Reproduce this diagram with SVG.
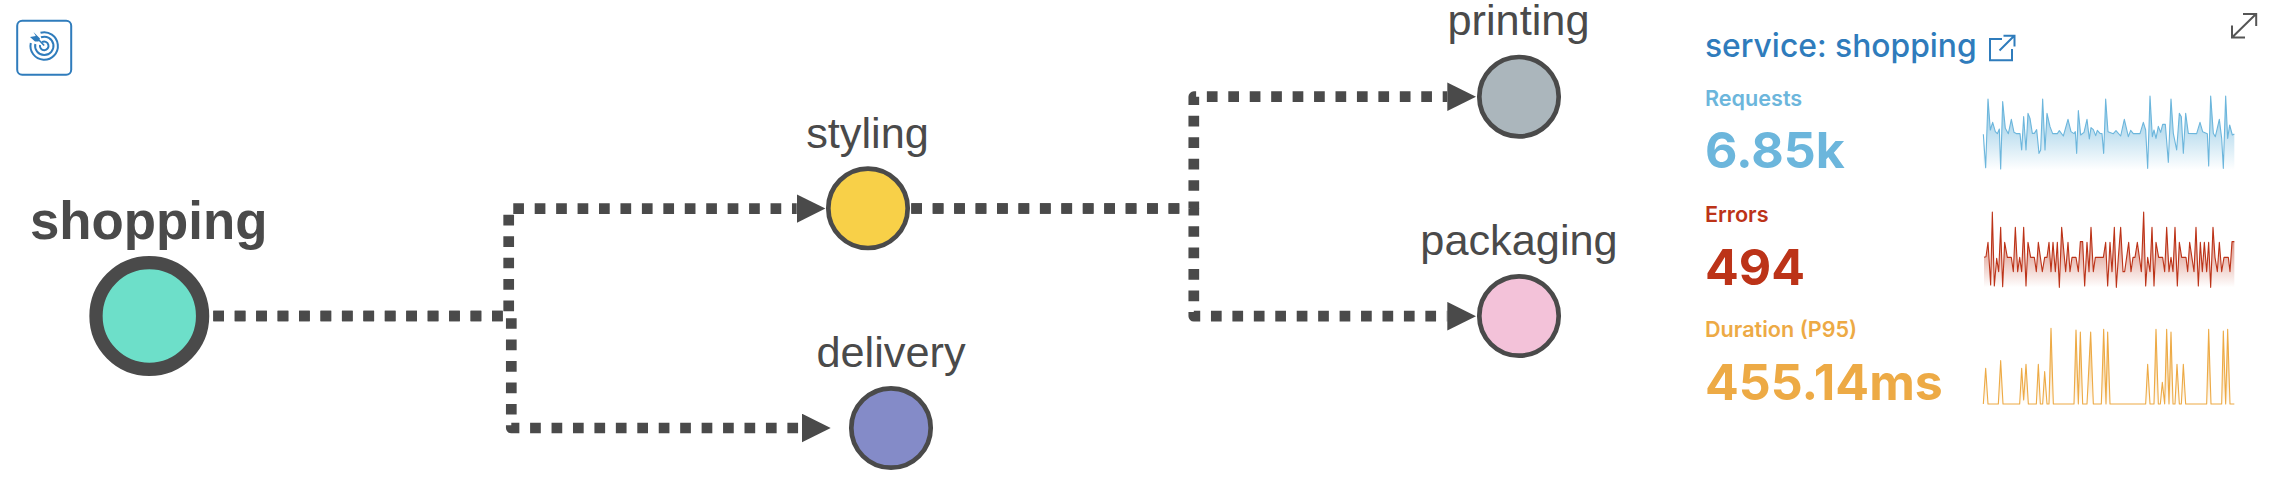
<svg xmlns="http://www.w3.org/2000/svg" width="2270" height="482" viewBox="0 0 2270 482">
<style>
.node{stroke:#4a4a4a;stroke-width:4.7}
.lbl{font-family:"Liberation Sans",Arial,sans-serif;font-size:43.3px;fill:#4a4a4a;text-anchor:middle}
.edge{fill:none;stroke:#4a4a4a;stroke-width:10.7;stroke-dasharray:10.7 10.74;stroke-linejoin:round}
.arrowed{marker-end:url(#arrow)}
.ui{font-family:Inter,"Noto Sans",sans-serif}
.title{font-size:31.8px;font-weight:500;fill:#2f7cbc}
.mname{font-size:21.6px;font-weight:600}
.mval{font-size:50px;font-weight:700}
.icon{fill:none;stroke:#2f7cbc;stroke-width:2}
.spark{stroke-width:3.3;stroke-linejoin:round}
</style>
<defs>
<marker id="arrow" markerUnits="userSpaceOnUse" markerWidth="29" markerHeight="29" refX="0" refY="14.3" orient="auto"><path d="M0,0L28.7,14.3L0,28.6z" fill="#4a4a4a"/></marker>
<linearGradient id="gb" x1="0" y1="0" x2="0" y2="1"><stop offset="0" stop-color="#6cb6dc" stop-opacity=".85"/><stop offset="1" stop-color="#6cb6dc" stop-opacity="0"/></linearGradient>
<linearGradient id="gr" x1="0" y1="0" x2="0" y2="1"><stop offset="0" stop-color="#bc3318" stop-opacity=".85"/><stop offset="1" stop-color="#bc3318" stop-opacity="0"/></linearGradient>
<linearGradient id="go" x1="0" y1="0" x2="0" y2="1"><stop offset="0" stop-color="#edaa45" stop-opacity=".85"/><stop offset="1" stop-color="#edaa45" stop-opacity="0"/></linearGradient>
</defs>
<rect width="2270" height="482" fill="#fff"/>

<g id="connectors">
<path class="edge arrowed" d="M213.3,316H508.7V208.6H796.7"/>
<path class="edge arrowed" d="M213.3,316H511.3V428H802"/>
<path class="edge arrowed" d="M911.3,208.5H1193.8V96.7H1447.3"/>
<path class="edge arrowed" d="M911.3,208.5H1193.8V316.2H1447.3"/>
</g>

<g id="node-shopping">
<circle cx="149.3" cy="316" r="53.3" fill="#6ddfc9" stroke="#4a4a4a" stroke-width="13.3"/>
<text class="lbl" x="148.7" y="239" style="font-weight:700;font-size:52.8px">shopping</text>
</g>
<g id="node-styling">
<circle class="node" cx="868" cy="208.3" r="39.7" fill="#f8d048"/>
<text class="lbl" x="867.5" y="147.7">styling</text>
</g>
<g id="node-delivery">
<circle class="node" cx="891" cy="428" r="39.7" fill="#848bc8"/>
<text class="lbl" x="891" y="367">delivery</text>
</g>
<g id="node-printing">
<circle class="node" cx="1519" cy="96.7" r="39.7" fill="#abb6bc"/>
<text class="lbl" x="1518.5" y="35.3">printing</text>
</g>
<g id="node-packaging">
<circle class="node" cx="1519" cy="316" r="39.7" fill="#f3c2d9"/>
<text class="lbl" x="1519" y="255">packaging</text>
</g>

<g id="target-button">
<rect x="17.2" y="20.8" width="54" height="54" rx="5" fill="#fff" stroke="#2f7cbc" stroke-width="2"/>
<path class="icon" d="M40.5,32.8A13.7,13.7 0 1 1 30.8,43M41,37.3A9.2,9.2 0 1 1 35.3,44M42,42.2A4.3,4.3 0 1 1 40,45"/>
<path d="M33.5,32L35.8,36L30,37L35,41.5L38.5,41.5L40,38.5Z" fill="#2f7cbc"/>
<path d="M36,37L44.2,45.5" stroke="#2f7cbc" stroke-width="1.6" fill="none"/>
</g>

<g id="expand-icon" fill="none" stroke="#555" stroke-width="2">
<path d="M2232,37.5L2256,14M2243,14H2256.2V26M2232,25.5V37.5H2245"/>
</g>

<g id="panel">
<text class="ui title" x="1705" y="57.3">service: shopping</text>
<path class="icon" d="M2002,39H1990V60.2H2012V49M1999.5,50.5L2014,36M2003.5,35.7H2014.5V46.5"/>

<text class="ui mname" x="1705" y="106" fill="#6cb6dc">Requests</text>
<text class="ui mval" x="1705" y="168.3" fill="#6cb6dc">6.85k</text>
<g class="spark" transform="translate(1970 85) scale(.33333)">
<path fill="url(#gb)" stroke="none" d="M40,255V148L47,248L54,42L61,135L68,112L76,140L82,146L88,132L92,252L98,50L106,130L115,146L124,103L132,142L140,146L150,146L155,195L161,95L168,195L174,85L180,100L187,145L193,145L200,134L207,205L212,195L218,42L225,195L231,85L240,125L248,146L262,146L268,137L280,153L294,103L303,140L312,146L316,140L320,205L325,77L332,150L342,142L351,103L358,162L363,128L370,134L377,152L382,136L390,145L396,146L401,205L407,42L414,140L430,146L438,137L452,153L463,103L475,155L482,136L490,146L510,146L520,112L527,135L533,250L540,33L547,155L552,135L558,160L565,124L572,142L578,118L586,118L595,232L603,42L610,145L620,195L628,85L634,95L640,205L647,85L655,145L680,146L690,112L698,140L712,146L716,243L722,33L730,145L736,155L748,103L755,160L760,250L767,33L773,160L779,120L787,150L793,147V255Z"/>
<path fill="none" stroke="#6cb6dc" d="M40,148L47,248L54,42L61,135L68,112L76,140L82,146L88,132L92,252L98,50L106,130L115,146L124,103L132,142L140,146L150,146L155,195L161,95L168,195L174,85L180,100L187,145L193,145L200,134L207,205L212,195L218,42L225,195L231,85L240,125L248,146L262,146L268,137L280,153L294,103L303,140L312,146L316,140L320,205L325,77L332,150L342,142L351,103L358,162L363,128L370,134L377,152L382,136L390,145L396,146L401,205L407,42L414,140L430,146L438,137L452,153L463,103L475,155L482,136L490,146L510,146L520,112L527,135L533,250L540,33L547,155L552,135L558,160L565,124L572,142L578,118L586,118L595,232L603,42L610,145L620,195L628,85L634,95L640,205L647,85L655,145L680,146L690,112L698,140L712,146L716,243L722,33L730,145L736,155L748,103L755,160L760,250L767,33L773,160L779,120L787,150L793,147"/>
</g>

<text class="ui mname" x="1705" y="222" fill="#bc3318">Errors</text>
<text class="ui mval" x="1705" y="284.7" fill="#bc3318">494</text>
<g class="spark" transform="translate(1970 200) scale(.33333)">
<path fill="url(#gr)" stroke="none" d="M42,262V172L48,170L54,127L62,255L67,36L73,258L80,175L86,215L92,82L98,260L104,127L112,172L124,172L130,215L136,82L143,215L149,172L155,215L161,82L168,258L174,127L182,172L193,172L199,215L205,127L217,215L224,172L231,172L237,127L243,215L249,127L256,215L262,127L268,262L275,82L287,215L294,127L300,215L306,172L318,172L325,215L331,125L338,125L344,258L351,127L357,215L363,82L370,215L376,172L400,172L407,127L413,258L420,127L426,215L433,82L439,262L445,172L452,82L459,215L464,215L476,127L483,215L489,172L495,172L502,127L514,215L521,36L527,258L533,172L540,215L546,82L552,258L558,127L566,172L578,172L584,215L590,82L597,215L603,172L609,215L615,82L622,258L628,127L635,172L648,172L653,215L659,127L672,215L678,82L685,258L691,127L697,215L703,127L710,215L716,127L722,262L729,82L735,172L742,215L748,127L755,215L762,172L775,172L780,215L786,125L793,125V262Z"/>
<path fill="none" stroke="#bc3318" d="M42,172L48,170L54,127L62,255L67,36L73,258L80,175L86,215L92,82L98,260L104,127L112,172L124,172L130,215L136,82L143,215L149,172L155,215L161,82L168,258L174,127L182,172L193,172L199,215L205,127L217,215L224,172L231,172L237,127L243,215L249,127L256,215L262,127L268,262L275,82L287,215L294,127L300,215L306,172L318,172L325,215L331,125L338,125L344,258L351,127L357,215L363,82L370,215L376,172L400,172L407,127L413,258L420,127L426,215L433,82L439,262L445,172L452,82L459,215L464,215L476,127L483,215L489,172L495,172L502,127L514,215L521,36L527,258L533,172L540,215L546,82L552,258L558,127L566,172L578,172L584,215L590,82L597,215L603,172L609,215L615,82L622,258L628,127L635,172L648,172L653,215L659,127L672,215L678,82L685,258L691,127L697,215L703,127L710,215L716,127L722,262L729,82L735,172L742,215L748,127L755,215L762,172L775,172L780,215L786,125L793,125"/>
</g>

<text class="ui mname" x="1705" y="337.3" fill="#edaa45">Duration (P95)</text>
<text class="ui mval" x="1705" y="400" fill="#edaa45">455.14ms</text>
<g class="spark" transform="translate(1970 320) scale(.33333)">
<path fill="url(#go)" stroke="none" d="M40,252L47,145L54,252L85,252L92,122L99,252L149,252L155,145L161,240L168,133L175,252L199,252L205,133L211,252L218,252L224,155L231,252L237,252L243,25L250,252L312,252L318,30L325,252L331,36L338,252L351,252L362,36L370,252L394,252L401,28L408,252L413,36L420,252L527,252L533,133L540,252L552,252L558,28L565,252L571,252L577,187L584,252L590,28L597,252L603,36L609,252L615,252L621,133L628,252L634,252L640,133L647,252L710,252L716,28L723,252L755,252L760,33L767,252L773,28L780,252L793,252Z"/>
<path fill="none" stroke="#edaa45" d="M40,252L47,145L54,252L85,252L92,122L99,252L149,252L155,145L161,240L168,133L175,252L199,252L205,133L211,252L218,252L224,155L231,252L237,252L243,25L250,252L312,252L318,30L325,252L331,36L338,252L351,252L362,36L370,252L394,252L401,28L408,252L413,36L420,252L527,252L533,133L540,252L552,252L558,28L565,252L571,252L577,187L584,252L590,28L597,252L603,36L609,252L615,252L621,133L628,252L634,252L640,133L647,252L710,252L716,28L723,252L755,252L760,33L767,252L773,28L780,252L793,252"/>
</g>
</g>
</svg>
